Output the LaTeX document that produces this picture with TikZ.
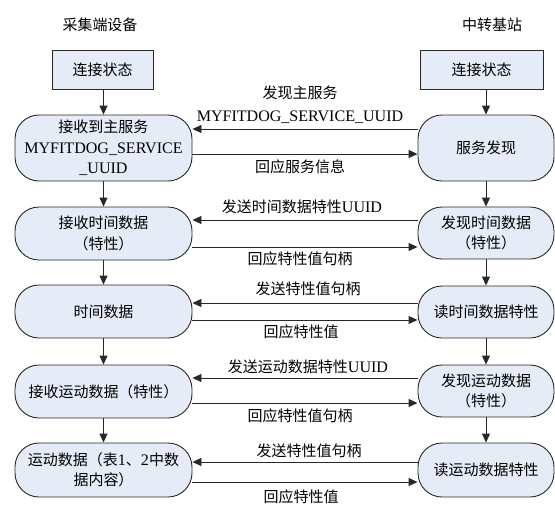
\documentclass[tikz,border=0pt]{standalone}
\usepackage{fontspec}
\setmainfont{Noto Sans CJK SC}
\newfontfamily\lat[Scale=1.07]{Liberation Serif}
\usetikzlibrary{arrows.meta}
\definecolor{boxfill}{RGB}{230,236,247}
\definecolor{edge}{RGB}{40,40,40}
\tikzset{
  base/.style={draw=edge, line width=0.9pt, fill=boxfill, align=center, inner sep=1pt,
    font=\fontsize{15}{20.5}\selectfont},
  statebox/.style={base, rectangle, minimum height=39pt},
  roundbox/.style={base, rectangle, rounded corners=24pt},
  arr/.style={draw=edge, line width=0.9pt, -{Triangle[length=9pt,width=8pt]}},
  lbl/.style={inner sep=0pt, font=\fontsize{15}{20}\selectfont},
}
\begin{document}
\begin{tikzpicture}[x=1pt,y=-1pt]
\useasboundingbox (0,0) rectangle (555,507);
% titles
\node[lbl] (tL) at (100,25) {采集端设备};
\node[lbl] (tR) at (492,25) {中转基站};
% state boxes
\node[statebox, minimum width=101pt] (sL) at (102.5,69.5) {连接状态};
\node[statebox, minimum width=123pt] (sR) at (481.5,69.5) {连接状态};
% left column
\node[roundbox, minimum width=177pt, minimum height=66pt] (L1) at (103.5,148) {接收到主服务\\{\lat MYFITDOG\_SERVICE}\\{\lat \_UUID}};
\node[roundbox, minimum width=177pt, minimum height=53pt] (L2) at (103.5,233.5) {接收时间数据\\（特性）};
\node[roundbox, minimum width=177pt, minimum height=53pt] (L3) at (103.5,311.5) {时间数据};
\node[roundbox, minimum width=177pt, minimum height=53pt] (L4) at (103.5,391.5) {接收运动数据（特性）};
\node[roundbox, minimum width=177pt, minimum height=54pt] (L5) at (103.5,470) {运动数据（表{\lat 1}、{\lat 2}中数\\据内容）};
% right column
\node[roundbox, minimum width=136pt, minimum height=66pt] (R1) at (486,148) {服务发现};
\node[roundbox, minimum width=136pt, minimum height=52pt] (R2) at (486,233) {发现时间数据\\（特性）};
\node[roundbox, minimum width=136pt, minimum height=52pt] (R3) at (486,312) {读时间数据特性};
\node[roundbox, minimum width=136pt, minimum height=52pt] (R4) at (486,391) {发现运动数据\\（特性）};
\node[roundbox, minimum width=136pt, minimum height=54pt] (R5) at (486,470) {读运动数据特性};
% vertical arrows
\draw[arr] (sL.south -| L1.north) -- (L1.north);
\draw[arr] (L1) -- (L2);
\draw[arr] (L2) -- (L3);
\draw[arr] (L3) -- (L4);
\draw[arr] (L4) -- (L5);
\draw[arr] (sR.south -| R1.north) -- (R1.north);
\draw[arr] (R1) -- (R2);
\draw[arr] (R2) -- (R3);
\draw[arr] (R3) -- (R4);
\draw[arr] (R4) -- (R5);
% horizontal arrows
\coordinate (y1a) at (0,129); \coordinate (y1b) at (0,154);
\coordinate (y2a) at (0,220); \coordinate (y2b) at (0,247);
\coordinate (y3a) at (0,303); \coordinate (y3b) at (0,320);
\coordinate (y4a) at (0,378); \coordinate (y4b) at (0,403);
\coordinate (y5a) at (0,462); \coordinate (y5b) at (0,482);
\draw[arr] (R1.west |- y1a) -- (L1.east |- y1a);
\draw[arr] (L1.east |- y1b) -- (R1.west |- y1b);
\draw[arr] (R2.west |- y2a) -- (L2.east |- y2a);
\draw[arr] (L2.east |- y2b) -- (R2.west |- y2b);
\draw[arr] (R3.west |- y3a) -- (L3.east |- y3a);
\draw[arr] (L3.east |- y3b) -- (R3.west |- y3b);
\draw[arr] (R4.west |- y4a) -- (L4.east |- y4a);
\draw[arr] (L4.east |- y4b) -- (R4.west |- y4b);
\draw[arr] (R5.west |- y5a) -- (L5.east |- y5a);
\draw[arr] (L5.east |- y5b) -- (R5.west |- y5b);
% labels
\node[lbl] (m1a) at (300,93) {发现主服务};
\node[lbl] (m1b) at (300,117.5) {\lat MYFITDOG\_SERVICE\_UUID};
\node[lbl] (m1c) at (300,167) {回应服务信息};
\node[lbl] (m2a) at (302,207) {发送时间数据特性{\lat UUID}};
\node[lbl] (m2b) at (300,259) {回应特性值句柄};
\node[lbl] (m3a) at (308,289) {发送特性值句柄};
\node[lbl] (m3b) at (301,332) {回应特性值};
\node[lbl] (m4a) at (308,367) {发送运动数据特性{\lat UUID}};
\node[lbl] (m4b) at (300,416) {回应特性值句柄};
\node[lbl] (m5a) at (309,451) {发送特性值句柄};
\node[lbl] (m5b) at (301,497) {回应特性值};
\end{tikzpicture}
\end{document}
